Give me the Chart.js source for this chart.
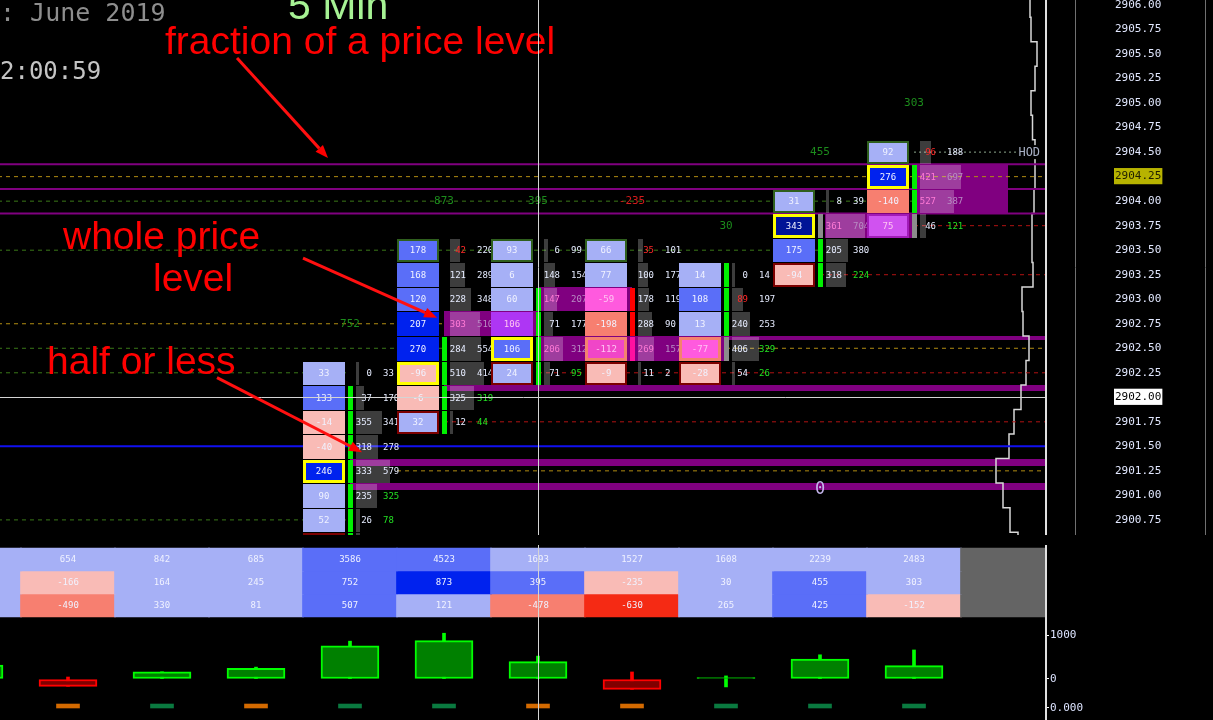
<!DOCTYPE html>
<html>
<head>
<meta charset="utf-8">
<title>Footprint 5 Min</title>
<script src="https://cdn.jsdelivr.net/npm/chart.js@4.4.1/dist/chart.umd.min.js"></script>
<style>
  html, body { margin: 0; padding: 0; background: #000; overflow: hidden; }
  #wrap { position: relative; width: 1213px; height: 720px; background: #000; }
  .pane { position: absolute; left: 0; width: 1213px; }
  #mainPane { top: 0; height: 535px; }
  #tablePane { top: 545px; height: 75px; }
  #deltaPane { top: 620px; height: 100px; }
</style>
</head>
<body>
<div id="wrap">
  <div class="pane" id="mainPane"><canvas id="mainChart" width="1213" height="535"></canvas></div>
  <div class="pane" id="tablePane"><canvas id="tableChart" width="1213" height="75"></canvas></div>
  <div class="pane" id="deltaPane"><canvas id="deltaChart" width="1213" height="100"></canvas></div>
</div>
<script>
// ---- data ----
const TICK = 0.25;
const PRICE_TICKS = [2906.00, 2905.75, 2905.50, 2905.25, 2905.00, 2904.75, 2904.50, 2904.25,
  2904.00, 2903.75, 2903.50, 2903.25, 2903.00, 2902.75, 2902.50, 2902.25, 2902.00,
  2901.75, 2901.50, 2901.25, 2901.00, 2900.75];
const LAST_PRICE = 2904.25;
const CURSOR_PRICE = 2902.00;
const CURSOR_COL = 5;
const HOD_PRICE = 2904.50;
const VWAP_PRICE = 2901.50;

// footprint bars in view: column, high price, bid / ask per row (top -> down)
const FP_COLS = [3, 4, 5, 6, 7, 8, 9];
const FP_HIGH = [2902.25, 2903.50, 2903.50, 2903.50, 2903.25, 2904.00, 2904.50];
const FP_BID = [
  [0, 37, 355, 318, 333, 235, 26, 22],
  [42, 121, 228, 303, 284, 510, 325, 12],
  [6, 148, 147, 71, 206, 71],
  [35, 100, 178, 288, 269, 11],
  [0, 89, 240, 406, 54],
  [8, 361, 205, 318],
  [96, 421, 527, 46]
];
const FP_ASK = [
  [33, 170, 341, 278, 579, 325, 78, 74],
  [220, 289, 348, 510, 554, 414, 319, 44],
  [99, 154, 207, 177, 312, 95],
  [101, 177, 119, 90, 157, 2],
  [14, 197, 253, 329, 26],
  [39, 704, 380, 224],
  [188, 697, 387, 121]
];
const FP_SIDE = ['-ggggggg', '----gggg', '--gggg', '--rrm-', 'gggx-', '-xgg', '-ggx'];
const FP_BID_MARK = ['........', 'r.......', '......', 'r.....', '.r...', '....', 'r...'];
const FP_ASK_MARK = ['.....gg.', '......gg', '.....g', '......', '...gg', '...g', '...g'];
const FP_HIGH_MARK = [false, true, true, true, false, true, true];

// imbalance zones (column span, price span) and the thin extension bands
const ZONES = [
  { x0: 4, x1: 5, top: 2902.875, bottom: 2902.625 },
  { x0: 5, x1: 6, top: 2903.125, bottom: 2902.875 },
  { x0: 5, x1: 7, top: 2902.625, bottom: 2902.375 },
  { x0: 8.05, x1: 9.01, top: 2903.875, bottom: 2903.625 },
  { x0: 9.01, x1: 10.0, top: 2904.375, bottom: 2903.875 }
];
const BANDS = [
  { x0: 7, top: 2902.628, bottom: 2902.587 },
  { x0: 4, top: 2902.123, bottom: 2902.068 },
  { x0: 3, top: 2901.371, bottom: 2901.303 },
  { x0: 3, top: 2901.127, bottom: 2901.058 }
];
const ZONE_LINES = [2904.375, 2904.125, 2903.875];

// naked level lines: price, column span, kind
const LEVEL_LINES = [
  { price: 2904.25, from: -1, to: 11, kind: 'poc' },
  { price: 2904.00, from: -1, to: 9, kind: 'level' },
  { price: 2903.75, from: 9, to: 11, kind: 'low' },
  { price: 2903.50, from: -1, to: 8, kind: 'level' },
  { price: 2903.25, from: 8, to: 11, kind: 'low' },
  { price: 2902.75, from: -1, to: 4, kind: 'poc' },
  { price: 2902.50, from: -1, to: 4, kind: 'level' },
  { price: 2902.50, from: 7, to: 11, kind: 'poc' },
  { price: 2902.25, from: -1, to: 3, kind: 'level' },
  { price: 2902.25, from: 5, to: 11, kind: 'low' },
  { price: 2901.75, from: 4, to: 11, kind: 'low' },
  { price: 2901.25, from: 3.5, to: 11, kind: 'poc' },
  { price: 2900.75, from: -1, to: 3, kind: 'level' }
];

// session volume profile (relative volume per price)
const PROFILE_PRICES = [2906.00, 2905.75, 2905.50, 2905.25, 2905.00, 2904.75, 2904.50, 2904.25,
  2904.00, 2903.75, 2903.50, 2903.25, 2903.00, 2902.75, 2902.50, 2902.25, 2902.00,
  2901.75, 2901.50, 2901.25, 2901.00, 2900.75, 2900.50];
const PROFILE_VOLUME = [15, 14, 8, 10, 14, 12.5, 10, 10, 11, 13, 13, 12, 23, 22, 16, 19, 24,
  31, 36, 49, 42, 35, 27];

// bar statistics table
const TABLE_COLS = [-1, 0, 1, 2, 3, 4, 5, 6, 7, 8, 9, 10];
const TABLE_VOLUME = [1210, 654, 842, 685, 3586, 4523, 1693, 1527, 1608, 2239, 2483, null];
const TABLE_DELTA = [318, -166, 164, 245, 752, 873, 395, -235, 30, 455, 303, null];
const TABLE_THIRD = [140, -490, 330, 81, 507, 121, -478, -630, 265, 425, -152, null];

// delta candles (box 0 -> delta, wick = min/max delta) and marker row
const BAR_COLS = [-1, 0, 1, 2, 3, 4, 5, 6, 7, 8, 9];
const BAR_DELTA = [318, -166, 164, 245, 752, 873, 395, -235, 30, 455, 303];
const WICK_HIGH = [318, 45, 164, 270, 860, 1040, 520, 160, 70, 550, 660];
const WICK_LOW = [0, -166, 0, 0, 0, 0, 0, -235, -180, 0, 0];
const MARKER_SIGN = [0, -1, 1, -1, 1, 1, -1, -1, 1, 1, 1];
const DELTA_TICKS = [1000, 0];

const NOTES = [
  { text: 'fraction of a price level', x: 1.032, y: 2905.50 },
  { text: 'whole price', x: -0.053, y: 2903.512 },
  { text: 'level', x: 0.904, y: 2903.084 },
  { text: 'half or less', x: -0.223, y: 2902.238 }
];
const NOTE_ARROWS = [
  { from: [1.798, 2905.46], to: [2.766, 2904.44] },
  { from: [2.500, 2903.42], to: [3.926, 2902.81] },
  { from: [1.585, 2902.20], to: [3.128, 2901.44] }
];
const ZERO_MARK = { col: 8, price: 2901.06, text: '0' };

// ---- view / layout ----
const X_MIN = -0.7234, X_MAX = 10.3936;
const Y_MIN = 2900.596, Y_MAX = 2906.051;
const AXIS_W = 168;
const BOX_L = -0.5, BOX_R = -0.053, SIDE_L = -0.025, SIDE_R = 0.032;
const GRAY_L = 0.064, BID_R = 0.234, ASK_L = 0.351;
const GRAY_PER_COL = 2540, GRAY_MIN = 0.032;
const MARKER_LEVEL = -659, MARKER_H = 90;
const PURPLE = '#800080';
const MONO = '"DejaVu Sans Mono", monospace';
const SANS = '"Liberation Sans", Arial, sans-serif';
const SIDE_COLORS = { g: '#00f000', r: '#ff0000', m: '#ff10a0', x: '#8c8c8c' };
const LINE_COLORS = { poc: '#b08c12', level: '#3a7818', low: '#b01212' };

function boxColor(d, zone) {
  if (zone) {
    if (d >= 100) return '#ae36f4';
    if (d >= 0) return '#d052f0';
    if (d <= -100) return '#f046c8';
    return '#ff5ade';
  }
  if (d >= 300) return '#001496';
  if (d >= 200) return '#0022ee';
  if (d >= 100) return '#5a6ef8';
  if (d >= 0) return '#a6b0f6';
  if (d > -100) return '#f9bbb6';
  if (d > -200) return '#f77f70';
  return '#f52a14';
}

function tableColor(row, v) {
  if (v === null) return '#646464';
  if (row === 0) return v >= 3000 ? '#5a6ef8' : '#a6b0f6';
  if (v >= 800) return '#0022ee';
  if (v >= 350) return '#5a6ef8';
  if (v >= 0) return '#a6b0f6';
  if (v > -300) return '#f9bbb6';
  if (v > -600) return '#f77f70';
  return '#f52a14';
}

function inZone(xv, price) {
  return ZONES.some(z => xv > z.x0 && xv < z.x1 && price < z.top && price > z.bottom);
}

function fitRight(s) {
  s.width = AXIS_W;
  s.paddingTop = 0;
  s.paddingBottom = 0;
}

function clipArea(ctx, a) {
  ctx.beginPath();
  ctx.rect(a.left, a.top, a.right - a.left, a.bottom - a.top);
  ctx.clip();
}

function fillSpan(ctx, x, y, x0, x1, top, bottom) {
  const l = Math.round(x.getPixelForValue(x0)), r = Math.round(x.getPixelForValue(x1));
  const t = Math.round(y.getPixelForValue(top)), b = Math.round(y.getPixelForValue(bottom));
  ctx.fillRect(l, t, r - l, Math.max(b - t, 1));
}

// vertical cursor line + right border, shared by all three panes
const cursorPlugin = {
  id: 'cursor',
  afterDraw(chart) {
    const { ctx, chartArea: a, scales: { x } } = chart;
    const cx = Math.round(x.getPixelForValue(CURSOR_COL)) + 0.5;
    ctx.save();
    ctx.strokeStyle = '#d4d4d4';
    ctx.lineWidth = 1;
    ctx.beginPath();
    ctx.moveTo(cx, a.top);
    ctx.lineTo(cx, a.bottom);
    ctx.stroke();
    ctx.strokeStyle = '#e0e0e0';
    ctx.lineWidth = 2;
    ctx.beginPath();
    ctx.moveTo(a.right + 1, a.top);
    ctx.lineTo(a.right + 1, a.bottom);
    ctx.stroke();
    ctx.restore();
  }
};

const footprintPlugin = {
  id: 'footprint',
  beforeDatasetsDraw(chart) {
    const { ctx, chartArea: a, scales: { x, y } } = chart;
    ctx.save();
    clipArea(ctx, a);
    ctx.fillStyle = PURPLE;
    ZONES.forEach(z => fillSpan(ctx, x, y, z.x0, z.x1, z.top, z.bottom));
    BANDS.forEach(b => fillSpan(ctx, x, y, b.x0, X_MAX, b.top, b.bottom));
    ctx.restore();
  },
  afterDatasetsDraw(chart) {
    const { ctx, chartArea: a, scales: { x, y } } = chart;
    ctx.save();
    clipArea(ctx, a);
    ctx.textBaseline = 'middle';

    FP_COLS.forEach((k, i) => {
      const bids = FP_BID[i], asks = FP_ASK[i];
      const vols = bids.map((b, j) => b + asks[j]);
      const poc = vols.indexOf(Math.max(...vols));
      const last = bids.length - 1;
      const X = v => Math.round(x.getPixelForValue(k + v));

      bids.forEach((bid, j) => {
        const ask = asks[j], delta = ask - bid;
        const price = FP_HIGH[i] - j * TICK;
        const t = Math.round(y.getPixelForValue(price + TICK / 2)) + 1;
        const b = Math.round(y.getPixelForValue(price - TICK / 2));
        const cy = (t + b) / 2 + 0.5;

        // volume bar behind bid/ask
        const gw = Math.max(vols[j] / GRAY_PER_COL, GRAY_MIN);
        ctx.fillStyle = 'rgba(255,255,255,0.24)';
        ctx.fillRect(X(GRAY_L), t, X(GRAY_L + gw) - X(GRAY_L), b - t);

        // side bar
        const sc = SIDE_COLORS[FP_SIDE[i][j]];
        if (sc) {
          ctx.fillStyle = sc;
          ctx.fillRect(X(SIDE_L), t, X(SIDE_R) - X(SIDE_L), b - t);
        }

        // delta box
        const zoneBox = inZone(k + (BOX_L + BOX_R) / 2, price);
        const bl = X(BOX_L), br = X(BOX_R);
        ctx.fillStyle = boxColor(delta, zoneBox);
        ctx.fillRect(bl, t, br - bl, b - t);
        let bc = null, bw = 0;
        if (j === poc) { bc = zoneBox && delta < 0 ? '#f4826e' : '#ffff00'; bw = 3; }
        else if (j === 0 && FP_HIGH_MARK[i]) { bc = '#2f5f1d'; bw = 2; }
        else if (j === last) { bc = zoneBox ? '#a21cb8' : '#7c0000'; bw = 2; }
        if (bc) {
          ctx.strokeStyle = bc;
          ctx.lineWidth = bw;
          ctx.strokeRect(bl + bw / 2, t + bw / 2, br - bl - bw, b - t - bw);
        }

        ctx.font = '9px ' + MONO;
        ctx.textAlign = 'center';
        ctx.fillStyle = zoneBox ? '#ffc4f2' : '#f0f2ff';
        ctx.fillText(String(delta), (bl + br) / 2, cy);

        const zoneBid = inZone(k + (GRAY_L + BID_R) / 2, price);
        const zoneAsk = inZone(k + ASK_L + 0.05, price);
        ctx.textAlign = 'right';
        ctx.fillStyle = zoneBid ? '#ff7ad6' : FP_BID_MARK[i][j] === 'r' ? '#ff2828' : '#e6ecff';
        ctx.fillText(String(bid), X(BID_R), cy);
        ctx.textAlign = 'left';
        ctx.fillStyle = zoneAsk ? '#b88cc4' : FP_ASK_MARK[i][j] === 'g' ? '#22e022' : '#e6ecff';
        ctx.fillText(String(ask), X(ASK_L), cy);
      });

      // bar delta printed two ticks above the high
      const d = TABLE_DELTA[TABLE_COLS.indexOf(k)];
      ctx.font = '11px ' + MONO;
      ctx.textAlign = 'center';
      ctx.fillStyle = d >= 0 ? '#1c8c1c' : '#d41c1c';
      ctx.fillText(String(d), Math.round(x.getPixelForValue(k)), y.getPixelForValue(FP_HIGH[i] + 2 * TICK));
    });

    // zero marker
    ctx.font = '17px ' + MONO;
    ctx.textAlign = 'center';
    ctx.fillStyle = '#c4b4ec';
    ctx.fillText(ZERO_MARK.text, x.getPixelForValue(ZERO_MARK.col), y.getPixelForValue(ZERO_MARK.price));

    // HOD tag
    ctx.font = '12px ' + MONO;
    ctx.textAlign = 'left';
    const hx = x.getPixelForValue(10.1), hy = y.getPixelForValue(HOD_PRICE);
    ctx.fillStyle = '#000';
    ctx.fillRect(hx, hy - 7, 24, 14);
    ctx.fillStyle = '#a8b0c4';
    ctx.fillText('HOD', hx + 1, hy + 1);
    ctx.restore();
  },
  afterDraw(chart) {
    const { ctx, chartArea: a, scales: { x, y } } = chart;
    ctx.save();
    // horizontal cursor
    const cy = Math.round(y.getPixelForValue(CURSOR_PRICE)) + 0.5;
    ctx.strokeStyle = '#d4d4d4';
    ctx.lineWidth = 1;
    ctx.beginPath();
    ctx.moveTo(a.left, cy);
    ctx.lineTo(a.right + 2, cy);
    ctx.stroke();

    // separators in the price axis area
    ctx.strokeStyle = '#707070';
    [30, 160].forEach(off => {
      ctx.beginPath();
      ctx.moveTo(a.right + off + 0.5, a.top);
      ctx.lineTo(a.right + off + 0.5, a.bottom);
      ctx.stroke();
    });

    // header texts
    ctx.textBaseline = 'alphabetic';
    ctx.textAlign = 'left';
    ctx.font = '25px ' + MONO;
    ctx.fillStyle = '#8e8e8e';
    ctx.fillText(': June 2019', a.left, a.top + 21);
    ctx.font = '24px ' + MONO;
    ctx.fillStyle = '#c4c4c4';
    ctx.fillText('2:00:59', a.left, a.top + 79);
    ctx.font = '41px ' + SANS;
    ctx.fillStyle = '#a6f294';
    ctx.fillText('5 Min', a.left + 288, a.top + 19);

    // red annotations
    ctx.font = '39px ' + SANS;
    ctx.fillStyle = '#ff0000';
    NOTES.forEach(n => ctx.fillText(n.text, x.getPixelForValue(n.x), y.getPixelForValue(n.y)));
    ctx.strokeStyle = '#ff1010';
    ctx.lineWidth = 3;
    NOTE_ARROWS.forEach(ar => {
      const x0 = x.getPixelForValue(ar.from[0]), y0 = y.getPixelForValue(ar.from[1]);
      const x1 = x.getPixelForValue(ar.to[0]), y1 = y.getPixelForValue(ar.to[1]);
      const ang = Math.atan2(y1 - y0, x1 - x0);
      const hl = 13, hw = 5;
      const bx = x1 - hl * Math.cos(ang), by = y1 - hl * Math.sin(ang);
      ctx.beginPath();
      ctx.moveTo(x0, y0);
      ctx.lineTo(bx, by);
      ctx.stroke();
      ctx.beginPath();
      ctx.moveTo(x1, y1);
      ctx.lineTo(bx + hw * Math.sin(ang), by - hw * Math.cos(ang));
      ctx.lineTo(bx - hw * Math.sin(ang), by + hw * Math.cos(ang));
      ctx.closePath();
      ctx.fill();
    });
    ctx.restore();
  }
};

// ---- main footprint pane ----
const mainDatasets = [];
LEVEL_LINES.forEach(l => {
  mainDatasets.push({
    data: [{ x: l.from, y: l.price }, { x: l.to, y: l.price }],
    borderColor: LINE_COLORS[l.kind], borderWidth: 1, borderDash: [4, 4]
  });
});
ZONE_LINES.forEach(p => {
  mainDatasets.push({
    data: [{ x: -1, y: p }, { x: 11, y: p }],
    borderColor: PURPLE, borderWidth: 2
  });
});
mainDatasets.push({
  data: [{ x: -1, y: VWAP_PRICE }, { x: 11, y: VWAP_PRICE }],
  borderColor: '#1010f0', borderWidth: 2
});
mainDatasets.push({
  data: [{ x: 9, y: HOD_PRICE }, { x: 10.1, y: HOD_PRICE }],
  borderColor: '#8fa88f', borderWidth: 1, borderDash: [2, 3]
});
const profilePoints = [];
PROFILE_PRICES.forEach((p, i) => {
  profilePoints.push({ x: PROFILE_VOLUME[i], y: p + TICK / 2 });
  profilePoints.push({ x: PROFILE_VOLUME[i], y: p - TICK / 2 });
});
mainDatasets.push({
  data: profilePoints, xAxisID: 'xp',
  borderColor: '#d8d8d8', borderWidth: 1.5
});

new Chart(document.getElementById('mainChart'), {
  type: 'line',
  data: { datasets: mainDatasets },
  options: {
    responsive: false, animation: false, devicePixelRatio: 1, events: [],
    layout: { padding: 0 },
    elements: { point: { radius: 0 }, line: { tension: 0, fill: false } },
    plugins: { legend: { display: false }, tooltip: { enabled: false } },
    scales: {
      x: { type: 'linear', min: X_MIN, max: X_MAX, bounds: 'data', offset: false, display: false },
      xp: { type: 'linear', min: 0, max: 1045, reverse: true, bounds: 'data', offset: false, display: false },
      y: {
        type: 'linear', position: 'right', min: Y_MIN, max: Y_MAX, bounds: 'data',
        afterBuildTicks: s => { s.ticks = PRICE_TICKS.map(v => ({ value: v })); },
        afterFit: fitRight,
        grid: { display: false, drawTicks: false, tickLength: 0 },
        border: { display: false },
        ticks: {
          autoSkip: false, padding: 70,
          font: { family: MONO, size: 11 },
          callback: v => Number(v).toFixed(2),
          color: c => c.tick && c.tick.value === LAST_PRICE ? '#1e1e00'
            : c.tick && c.tick.value === CURSOR_PRICE ? '#000000' : '#e2e8ff',
          showLabelBackdrop: c => !!c.tick && (c.tick.value === LAST_PRICE || c.tick.value === CURSOR_PRICE),
          backdropColor: c => c.tick && c.tick.value === LAST_PRICE ? '#b7b300' : '#ffffff',
          backdropPadding: { left: 1, right: 1, top: 2, bottom: 1 }
        }
      }
    }
  },
  plugins: [footprintPlugin, cursorPlugin]
});

// ---- statistics table pane ----
const tableRows = [TABLE_VOLUME, TABLE_DELTA, TABLE_THIRD];
const tableTextPlugin = {
  id: 'tableText',
  afterDatasetsDraw(chart) {
    const { ctx } = chart;
    ctx.save();
    ctx.font = '9px ' + MONO;
    ctx.textAlign = 'center';
    ctx.textBaseline = 'middle';
    ctx.fillStyle = '#f0f2ff';
    tableRows.forEach((vals, r) => {
      chart.getDatasetMeta(r).data.forEach((el, c) => {
        if (vals[c] === null) return;
        ctx.fillText(String(vals[c]), Math.round(el.x), (el.y + el.base) / 2 + 0.5);
      });
    });
    ctx.restore();
  }
};

new Chart(document.getElementById('tableChart'), {
  type: 'bar',
  data: {
    datasets: tableRows.map((vals, r) => ({
      data: TABLE_COLS.map(k => ({ x: k, y: [r, r + 1] })),
      backgroundColor: c => tableColor(r, vals[c.dataIndex]),
      borderWidth: 0, barThickness: 95, grouped: false
    }))
  },
  options: {
    responsive: false, animation: false, devicePixelRatio: 1, events: [],
    layout: { padding: 0 },
    plugins: { legend: { display: false }, tooltip: { enabled: false } },
    scales: {
      x: { type: 'linear', min: X_MIN, max: X_MAX, bounds: 'data', offset: false, display: false },
      y: {
        type: 'linear', position: 'right', reverse: true, min: -0.1304, max: 3.1304, bounds: 'data',
        afterFit: fitRight,
        grid: { display: false, drawTicks: false, tickLength: 0 },
        border: { display: false },
        ticks: { display: false }
      }
    }
  },
  plugins: [tableTextPlugin, cursorPlugin]
});

// ---- delta candles pane ----
const candleFill = d => d >= 0 ? '#008000' : '#800000';
const candleEdge = d => d >= 0 ? '#00ff00' : '#ff0000';
const markerCols = BAR_COLS.filter((k, i) => MARKER_SIGN[i] !== 0);
const markerSigns = MARKER_SIGN.filter(s => s !== 0);

new Chart(document.getElementById('deltaChart'), {
  type: 'bar',
  data: {
    datasets: [
      {
        data: BAR_COLS.map((k, i) => ({ x: k, y: [WICK_LOW[i], WICK_HIGH[i]] })),
        backgroundColor: c => candleEdge(BAR_DELTA[c.dataIndex]),
        borderWidth: 0, barThickness: 3, grouped: false, order: 3
      },
      {
        data: BAR_COLS.map((k, i) => ({ x: k, y: [0, BAR_DELTA[i]] })),
        backgroundColor: c => candleFill(BAR_DELTA[c.dataIndex]),
        borderColor: c => candleEdge(BAR_DELTA[c.dataIndex]),
        borderWidth: 2, borderSkipped: false, barThickness: 58, grouped: false, order: 2
      },
      {
        data: markerCols.map(k => ({ x: k, y: [MARKER_LEVEL, MARKER_LEVEL + MARKER_H] })),
        backgroundColor: c => markerSigns[c.dataIndex] > 0 ? '#0a7a40' : '#d46a00',
        borderWidth: 0, barThickness: 23, grouped: false, order: 1
      }
    ]
  },
  options: {
    responsive: false, animation: false, devicePixelRatio: 1, events: [],
    layout: { padding: 0 },
    plugins: { legend: { display: false }, tooltip: { enabled: false } },
    scales: {
      x: { type: 'linear', min: X_MIN, max: X_MAX, bounds: 'data', offset: false, display: false },
      y: {
        type: 'linear', position: 'right', min: -932, max: 1341, bounds: 'data',
        afterBuildTicks: s => { s.ticks = DELTA_TICKS.concat([MARKER_LEVEL]).map(v => ({ value: v })); },
        afterFit: fitRight,
        grid: { display: true, drawOnChartArea: false, drawTicks: true, tickLength: 4, color: '#ffffff' },
        border: { display: false },
        ticks: {
          autoSkip: false, padding: 1,
          font: { family: MONO, size: 11 }, color: '#dde4ff',
          callback: v => v === MARKER_LEVEL ? '0.000' : String(v)
        }
      }
    }
  },
  plugins: [cursorPlugin]
});
</script>
</body>
</html>
